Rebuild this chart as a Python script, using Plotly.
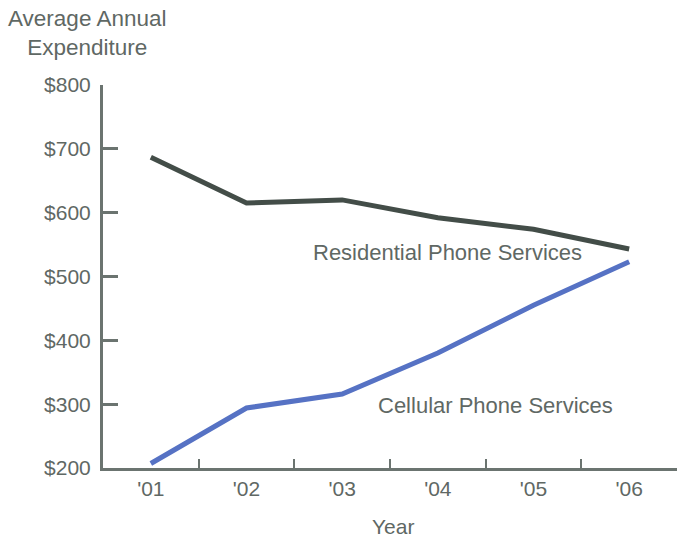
import plotly.graph_objects as go

years = ["'01", "'02", "'03", "'04", "'05", "'06"]
residential = [687, 615, 620, 592, 574, 543]
cellular = [207, 294, 316, 380, 455, 523]
y_ticks = [200, 300, 400, 500, 600, 700, 800]
y_labels = ["$200", "$300", "$400", "$500", "$600", "$700", "$800"]

FONT = "Liberation Sans, Arial, sans-serif"
TXT = "#5f6864"
AX = "#6b7470"

fig = go.Figure()
fig.add_trace(go.Scatter(x=years, y=residential, mode="lines",
                         line=dict(color="#434d48", width=5), showlegend=False))
fig.add_trace(go.Scatter(x=years, y=cellular, mode="lines",
                         line=dict(color="#5672c4", width=5), showlegend=False))

fig.update_layout(
    width=678, height=538,
    margin=dict(l=103, r=1, t=85, b=70),
    paper_bgcolor="white", plot_bgcolor="white",
    font=dict(family=FONT, color=TXT, size=21),
    xaxis=dict(type="category", range=[-0.5, 5.5], tickson="boundaries",
               ticks="inside", ticklen=9, tickwidth=2, tickcolor=AX,
               showline=True, linecolor=AX, linewidth=3, showgrid=False,
               zeroline=False, tickfont=dict(size=21, color=TXT)),
    yaxis=dict(range=[200, 800], tickvals=y_ticks, ticktext=y_labels,
               ticks="inside", ticklen=15, tickwidth=3, tickcolor=AX,
               showline=True, linecolor=AX, linewidth=3, showgrid=False,
               zeroline=False, tickfont=dict(size=21, color=TXT),
               ticklabelstandoff=5),
    annotations=[
        dict(text="Average Annual<br>Expenditure", xref="paper", yref="paper",
             x=-0.028, y=1.137, xanchor="center", yanchor="middle",
             showarrow=False, font=dict(size=22.5, color=TXT)),
        dict(text="Residential Phone Services", xref="x", yref="y",
             x=3.1, y=538, xanchor="center", yanchor="middle",
             showarrow=False, font=dict(size=22, color=TXT)),
        dict(text="Cellular Phone Services", xref="x", yref="y",
             x=3.6, y=298, xanchor="center", yanchor="middle",
             showarrow=False, font=dict(size=22, color=TXT)),
        dict(text="Year", xref="paper", yref="paper",
             x=(393 - 103) / 574, y=-(526 - 468) / 383, xanchor="center",
             yanchor="middle", showarrow=False, borderpad=0,
             font=dict(size=21, color=TXT)),
    ],
)

fig.write_html("out.html")
